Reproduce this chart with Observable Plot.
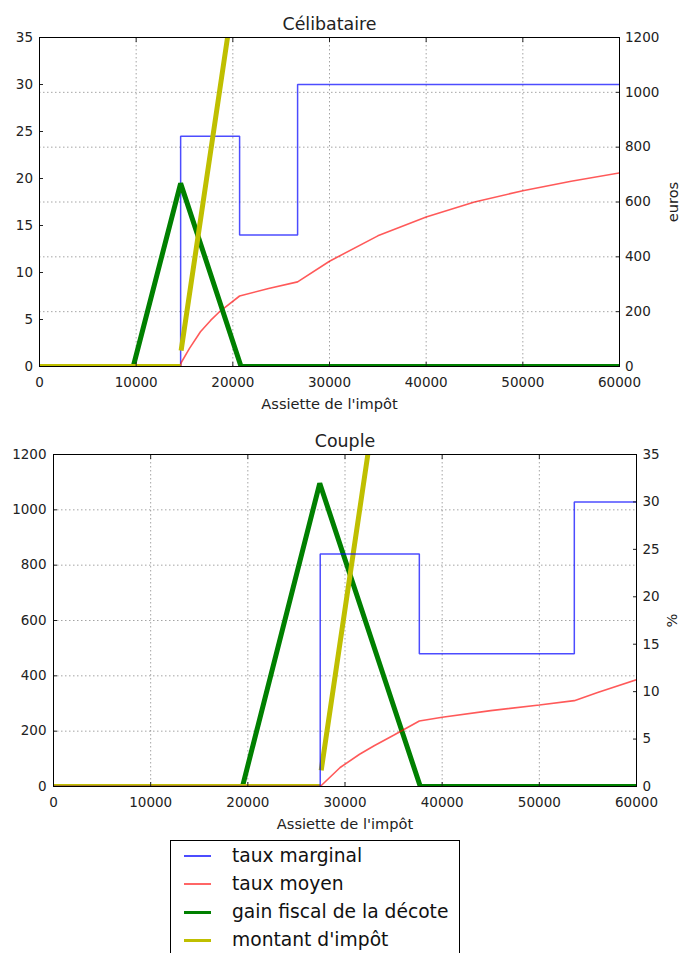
<!DOCTYPE html>
<html><head><meta charset="utf-8">
<script src="https://cdn.jsdelivr.net/npm/d3@7"></script>
<script src="https://cdn.jsdelivr.net/npm/@observablehq/plot@0.6"></script>
<style>
body{margin:0;background:#fff;font-family:"DejaVu Sans",sans-serif;}
#root{position:relative;width:681px;height:953px;overflow:hidden;background:#fff}
#legend{position:absolute;left:170px;top:840px;width:288px;height:140px;border:1px solid #000;background:#fff;font-size:18.7px;color:#111}
.row{position:absolute;left:0;width:288px;height:28px}
.sw{position:absolute;left:13px;width:27px}
.lab{position:absolute;left:61px;white-space:nowrap;line-height:28px;top:-14px}
</style></head><body><div id="root"><div id="legend"></div></div>
<script>
// ---- tick labels ----
const xTicks = [0, 10000, 20000, 30000, 40000, 50000, 60000];
const pctTicks = [0, 5, 10, 15, 20, 25, 30, 35];
const eurTicks = [0, 200, 400, 600, 800, 1000, 1200];

// ---- series names ----
const seriesNames = ["taux marginal", "taux moyen", "gain fiscal de la décote", "montant d'impôt"];

// ---- Célibataire : [assiette, valeur] (NaN = break in the line) ----
const celibMarginal = [[0,0],[14600,0],[14600,24.5],[20700,24.5],[20700,14],[26700,14],[26700,30],[60000,30]]; // %
const celibMoyen = [[0,0],[14600,0],[14650,0.4],[15500,1.9],[16650,3.7],[17700,4.9],[18700,5.9],[20700,7.5],[23700,8.3],[26700,9.0],[30000,11.2],[35000,13.9],[40000,15.9],[45000,17.5],[50000,18.7],[55000,19.7],[60000,20.6]]; // %
const celibDecote = [[0,0],[9700,0],[14600,668],[20850,0],[60000,0]]; // euros
const celibImpot = [[0,0],[14600,0],[14620,NaN],[14650,58],[19450,1200]]; // euros

// ---- Couple : [assiette, valeur] ----
const coupleMarginal = [[0,0],[27450,0],[27450,24.5],[37650,24.5],[37650,14],[53600,14],[53600,30],[60000,30]]; // %
const coupleMoyen = [[0,0],[27450,0],[29500,2.0],[31500,3.4],[33000,4.3],[35000,5.4],[37650,6.9],[40000,7.3],[45000,8.0],[50000,8.6],[53600,9.05],[56000,9.9],[60000,11.25]]; // %
const coupleDecote = [[0,0],[19450,0],[27400,1096],[37750,0],[60000,0]]; // euros
const coupleImpot = [[0,0],[27450,0],[27500,NaN],[27550,58],[32350,1200]]; // euros

// ---- styles ----
const BLUE = {stroke:"#0000ff", strokeOpacity:0.7, strokeWidth:1.5};
const RED = {stroke:"#ff0000", strokeOpacity:0.65, strokeWidth:1.6};
const GREEN = {stroke:"#008000", strokeWidth:5};
const YELLOW = {stroke:"#bfbf00", strokeWidth:5};
const fmt = d => String(d);
const root = document.getElementById("root");

function layer(top, h, m, yDomain, marks) {
  const svg = Plot.plot({
    width: 681, height: h,
    marginTop: m.t, marginBottom: m.b, marginLeft: m.l, marginRight: m.r,
    x: {domain: [0, 60000], axis: null},
    y: {domain: yDomain, axis: null},
    style: {fontFamily: '"DejaVu Sans", sans-serif', fontSize: "13.5px", color: "#222", background: "transparent", overflow: "visible"},
    marks
  });
  svg.style.position = "absolute";
  svg.style.left = "0px";
  svg.style.top = top + "px";
  root.appendChild(svg);
}
const line = (d, s) => Plot.line(d, {...s, clip: true, strokeLinejoin: "miter", strokeLinecap: "butt"});
const grid = [
  Plot.gridX(xTicks, {stroke:"#000", strokeOpacity:0.45, strokeWidth:0.8, strokeDasharray:"1.5,2.5"}),
  Plot.gridY(eurTicks, {stroke:"#000", strokeOpacity:0.45, strokeWidth:0.8, strokeDasharray:"1.5,2.5"})
];
const xAxes = [
  Plot.axisX(xTicks, {anchor:"bottom", tickSize:-4, tickPadding:15, tickFormat: fmt, label: null}),
  Plot.axisX(xTicks, {anchor:"top", tickSize:-4, tickFormat: () => "", label: null})
];

// ===== Célibataire =====
const mT = {t:37, b:44, l:39, r:62};
layer(0, 410, mT, [0, 1200], grid);
layer(0, 410, mT, [0, 35], [
  line(celibMarginal, BLUE),
  line(celibMoyen, RED),
  Plot.axisY(pctTicks, {anchor:"left", tickSize:-4, tickPadding:10.5, tickFormat: fmt, label: null})
]);
layer(0, 410, mT, [0, 1200], [
  line(celibDecote, GREEN),
  line(celibImpot, YELLOW),
  Plot.axisY(eurTicks, {anchor:"right", tickSize:-4, tickPadding:9.5, tickFormat: fmt, label: null}),
  ...xAxes,
  Plot.frame({stroke:"#000", strokeWidth:1}),
  Plot.text(["Célibataire"], {frameAnchor:"top", lineAnchor:"bottom", dy:-7.5, fontSize:17.4, fill:"#222"}),
  Plot.text(["Assiette de l'impôt"], {frameAnchor:"bottom", lineAnchor:"bottom", dy:42, fontSize:14.6, fill:"#222"}),
  Plot.text(["euros"], {frameAnchor:"right", textAnchor:"middle", lineAnchor:"middle", rotate:-90, dx:54, fontSize:14.6, fill:"#222"})
]);

// ===== Couple =====
const mB = {t:34, b:54, l:53, r:45};
layer(420, 420, mB, [0, 1200], grid);
layer(420, 420, mB, [0, 1200], [
  line(coupleDecote, GREEN),
  line(coupleImpot, YELLOW),
  Plot.axisY(eurTicks, {anchor:"left", tickSize:-4, tickPadding:11, tickFormat: fmt, label: null})
]);
layer(420, 420, mB, [0, 35], [
  line(coupleMarginal, BLUE),
  line(coupleMoyen, RED),
  Plot.axisY(pctTicks, {anchor:"right", tickSize:-4, tickPadding:10, tickFormat: fmt, label: null}),
  ...xAxes,
  Plot.frame({stroke:"#000", strokeWidth:1}),
  Plot.text(["Couple"], {frameAnchor:"top", lineAnchor:"bottom", dy:-8, fontSize:17.4, fill:"#222"}),
  Plot.text(["Assiette de l'impôt"], {frameAnchor:"bottom", lineAnchor:"bottom", dy:42, fontSize:14.6, fill:"#222"}),
  Plot.text(["%"], {frameAnchor:"right", textAnchor:"middle", lineAnchor:"middle", rotate:-90, dx:36, fontSize:14.6, fill:"#222"})
]);

// ===== Legend =====
const legendStyles = [
  {c:"#0000ff", w:1.5, o:0.7},
  {c:"#ff0000", w:1.5, o:0.6},
  {c:"#008000", w:3, o:1},
  {c:"#bfbf00", w:3, o:1}
];
const legend = document.getElementById("legend");
seriesNames.forEach((name, i) => {
  const row = document.createElement("div");
  row.className = "row";
  row.style.top = (15 + i * 28) + "px";
  const sw = document.createElement("div");
  sw.className = "sw";
  sw.style.top = (-legendStyles[i].w / 2) + "px";
  sw.style.height = legendStyles[i].w + "px";
  sw.style.background = legendStyles[i].c;
  sw.style.opacity = legendStyles[i].o;
  const lab = document.createElement("div");
  lab.className = "lab";
  lab.textContent = name;
  row.appendChild(sw);
  row.appendChild(lab);
  legend.appendChild(row);
});
</script>
</body></html>
